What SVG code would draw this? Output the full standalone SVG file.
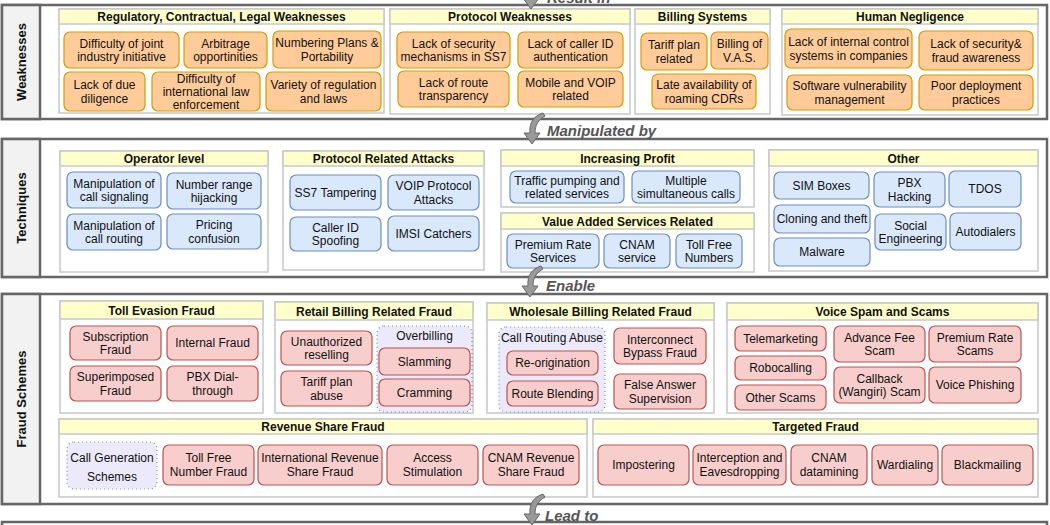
<svg xmlns="http://www.w3.org/2000/svg" width="1050" height="525" viewBox="0 0 1050 525">
<style>
text{font-family:"Liberation Sans",Arial,Helvetica,sans-serif;font-size:12px;fill:#111;text-anchor:middle}
.sec{fill:#fff;stroke:#666;stroke-width:2.5}
.lab{fill:#f2f2f2;stroke:#666;stroke-width:2.5}
.grp{fill:#fff;stroke:#c8c8c8;stroke-width:1.5}
.hdr{fill:#ffffcc;stroke:#c8c8c8;stroke-width:1.5}
.o{fill:#ffcc99;stroke:#d79b00;stroke-width:1.2}
.b{fill:#dae8fc;stroke:#6c8ebf;stroke-width:1.2}
.r{fill:#f8cecc;stroke:#b85450;stroke-width:1.2}
.dot{fill:#eceafa;stroke:#6c8ebf;stroke-width:1.2;stroke-dasharray:1 3}
.h{font-weight:bold}
.s{font-weight:bold;font-size:13px}
.c{font-weight:bold;font-style:italic;font-size:15px;fill:#555;text-anchor:start}
.arr{fill:#999;stroke:#666;stroke-width:1}
</style>
<defs>
<path id="curl" d="M19 0 C10 3 5 9 6 20 L0 20 L8 31 L16 20 L11 20 C11 12 14 7 21 3 Z"/>
</defs>

<!-- sections -->
<g id="sec-weak">
<rect class="sec" x="2" y="5" width="1045" height="114"/>
<rect class="lab" x="2" y="5" width="38" height="114"/>
<text class="s" transform="translate(26,62) rotate(-90)">Weaknesses</text>
</g>
<g id="sec-tech">
<rect class="sec" x="2" y="139" width="1045" height="138"/>
<rect class="lab" x="2" y="139" width="38" height="138"/>
<text class="s" transform="translate(26,208) rotate(-90)">Techniques</text>
</g>
<g id="sec-fraud">
<rect class="sec" x="2" y="294" width="1045" height="210"/>
<rect class="lab" x="2" y="294" width="38" height="210"/>
<text class="s" transform="translate(26,399) rotate(-90)">Fraud Schemes</text>
</g>
<g id="sec-next">
<rect class="sec" x="2" y="522" width="1045" height="20"/>
</g>

<!-- Weaknesses groups -->
<g id="g-reg">
<rect class="grp" x="59" y="9" width="325" height="104"/>
<rect class="hdr" x="59" y="9" width="325" height="15"/>
<text class="h" x="221.5" y="21">Regulatory, Contractual, Legal Weaknesses</text>
</g>
<g id="n-joint"><rect class="o" x="64" y="32" width="115" height="36" rx="6"/><text x="121.5" y="47.5">Difficulty of joint</text><text x="121.5" y="61">industry initiative</text></g>
<g id="n-arb"><rect class="o" x="184" y="32" width="83" height="36" rx="6"/><text x="225.5" y="47.5">Arbitrage</text><text x="225.5" y="61">opportinities</text></g>
<g id="n-num"><rect class="o" x="273" y="31" width="108" height="37" rx="6"/><text x="327" y="47">Numbering Plans &amp;</text><text x="327" y="60.5">Portability</text></g>
<g id="n-due"><rect class="o" x="64" y="72" width="81" height="39" rx="6"/><text x="104.5" y="89">Lack of due</text><text x="104.5" y="102.5">diligence</text></g>
<g id="n-intl"><rect class="o" x="152" y="72" width="108" height="39" rx="6"/><text x="206" y="83">Difficulty of</text><text x="206" y="96">international law</text><text x="206" y="109">enforcement</text></g>
<g id="n-var"><rect class="o" x="266" y="72" width="115" height="39" rx="6"/><text x="323.5" y="89">Variety of regulation</text><text x="323.5" y="102.5">and laws</text></g>

<g id="g-protw">
<rect class="grp" x="390" y="9" width="240" height="105"/>
<rect class="hdr" x="390" y="9" width="240" height="15"/>
<text class="h" x="510" y="21">Protocol Weaknesses</text>
</g>
<g id="n-ss7w"><rect class="o" x="397" y="32" width="113" height="36" rx="6"/><text x="453.5" y="47.5">Lack of security</text><text x="453.5" y="61">mechanisms in SS7</text></g>
<g id="n-cid"><rect class="o" x="518" y="32" width="105" height="36" rx="6"/><text x="570.5" y="47.5">Lack of caller ID</text><text x="570.5" y="61">authentication</text></g>
<g id="n-route"><rect class="o" x="398" y="71" width="111" height="36" rx="6"/><text x="453.5" y="86.5">Lack of route</text><text x="453.5" y="100">transparency</text></g>
<g id="n-mob"><rect class="o" x="518" y="71" width="105" height="36" rx="6"/><text x="570.5" y="86.5">Mobile and VOIP</text><text x="570.5" y="100">related</text></g>

<g id="g-bill">
<rect class="grp" x="635" y="9" width="135" height="105"/>
<rect class="hdr" x="635" y="9" width="135" height="15"/>
<text class="h" x="702.5" y="21">Billing Systems</text>
</g>
<g id="n-tariff"><rect class="o" x="641" y="33" width="66" height="37" rx="6"/><text x="674" y="49">Tariff plan</text><text x="674" y="62.5">related</text></g>
<g id="n-vas"><rect class="o" x="711" y="32" width="57" height="37" rx="6"/><text x="739.5" y="48">Billing of</text><text x="739.5" y="61.5">V.A.S.</text></g>
<g id="n-cdr"><rect class="o" x="652" y="74" width="104" height="35" rx="6"/><text x="704" y="89">Late availability of</text><text x="704" y="102.5">roaming CDRs</text></g>

<g id="g-human">
<rect class="grp" x="782" y="9" width="256" height="106"/>
<rect class="hdr" x="782" y="9" width="256" height="15"/>
<text class="h" x="910" y="21">Human Negligence</text>
</g>
<g id="n-ctrl"><rect class="o" x="785" y="29" width="127" height="39" rx="6"/><text x="848.5" y="46">Lack of internal control</text><text x="848.5" y="59.5">systems in companies</text></g>
<g id="n-aware"><rect class="o" x="919" y="31" width="114" height="39" rx="6"/><text x="976" y="48">Lack of security&amp;</text><text x="976" y="61.5">fraud awareness</text></g>
<g id="n-soft"><rect class="o" x="787" y="75" width="125" height="35" rx="6"/><text x="849.5" y="90">Software vulnerability</text><text x="849.5" y="103.5">management</text></g>
<g id="n-poor"><rect class="o" x="919" y="75" width="114" height="35" rx="6"/><text x="976" y="90">Poor deployment</text><text x="976" y="103.5">practices</text></g>

<!-- Techniques groups -->
<g id="g-op">
<rect class="grp" x="60" y="151" width="208" height="121"/>
<rect class="hdr" x="60" y="151" width="208" height="15"/>
<text class="h" x="164" y="163">Operator level</text>
</g>
<g id="n-sig"><rect class="b" x="67" y="172" width="94" height="36" rx="6"/><text x="114" y="187.5">Manipulation of</text><text x="114" y="201">call signaling</text></g>
<g id="n-hij"><rect class="b" x="167" y="173" width="94" height="36" rx="6"/><text x="214" y="188.5">Number range</text><text x="214" y="202">hijacking</text></g>
<g id="n-rout"><rect class="b" x="67" y="214" width="94" height="36" rx="6"/><text x="114" y="229.5">Manipulation of</text><text x="114" y="243">call routing</text></g>
<g id="n-price"><rect class="b" x="167" y="214" width="94" height="35" rx="6"/><text x="214" y="229">Pricing</text><text x="214" y="242.5">confusion</text></g>

<g id="g-pra">
<rect class="grp" x="283" y="151" width="201" height="119"/>
<rect class="hdr" x="283" y="151" width="201" height="15"/>
<text class="h" x="383.5" y="163">Protocol Related Attacks</text>
</g>
<g id="n-ss7t"><rect class="b" x="290" y="175" width="91" height="35" rx="6"/><text x="335.5" y="196.5">SS7 Tampering</text></g>
<g id="n-voip"><rect class="b" x="388" y="175" width="91" height="35" rx="6"/><text x="433.5" y="190">VOIP Protocol</text><text x="433.5" y="203.5">Attacks</text></g>
<g id="n-spoof"><rect class="b" x="290" y="217" width="91" height="34" rx="6"/><text x="335.5" y="231.5">Caller ID</text><text x="335.5" y="245">Spoofing</text></g>
<g id="n-imsi"><rect class="b" x="388" y="216" width="91" height="35" rx="6"/><text x="433.5" y="237.5">IMSI Catchers</text></g>

<g id="g-profit">
<rect class="grp" x="501" y="150" width="253" height="57"/>
<rect class="hdr" x="501" y="150" width="253" height="16"/>
<text class="h" x="627.5" y="162.5">Increasing Profit</text>
</g>
<g id="n-pump"><rect class="b" x="510" y="171" width="114" height="32" rx="6"/><text x="567" y="184.5">Traffic pumping and</text><text x="567" y="198">related services</text></g>
<g id="n-multi"><rect class="b" x="632" y="171" width="108" height="32" rx="6"/><text x="686" y="184.5">Multiple</text><text x="686" y="198">simultaneous calls</text></g>

<g id="g-vas">
<rect class="grp" x="501" y="213" width="253" height="59"/>
<rect class="hdr" x="501" y="213" width="253" height="16"/>
<text class="h" x="627.5" y="225.5">Value Added Services Related</text>
</g>
<g id="n-prs"><rect class="b" x="507" y="234" width="92" height="34" rx="6"/><text x="553" y="248.5">Premium Rate</text><text x="553" y="262">Services</text></g>
<g id="n-cnams"><rect class="b" x="604" y="234" width="66" height="34" rx="6"/><text x="637" y="248.5">CNAM</text><text x="637" y="262">service</text></g>
<g id="n-tfn"><rect class="b" x="676" y="234" width="66" height="34" rx="6"/><text x="709" y="248.5">Toll Free</text><text x="709" y="262">Numbers</text></g>

<g id="g-other">
<rect class="grp" x="769" y="150" width="269" height="121"/>
<rect class="hdr" x="769" y="150" width="269" height="16"/>
<text class="h" x="903.5" y="162.5">Other</text>
</g>
<g id="n-sim"><rect class="b" x="774" y="172" width="95" height="27" rx="6"/><text x="821.5" y="189.5">SIM Boxes</text></g>
<g id="n-pbx"><rect class="b" x="874" y="172" width="71" height="35" rx="6"/><text x="909.5" y="187">PBX</text><text x="909.5" y="200.5">Hacking</text></g>
<g id="n-tdos"><rect class="b" x="949" y="171" width="72" height="36" rx="6"/><text x="985" y="193">TDOS</text></g>
<g id="n-clone"><rect class="b" x="774" y="205" width="96" height="28" rx="6"/><text x="822" y="223">Cloning and theft</text></g>
<g id="n-social"><rect class="b" x="875" y="214" width="71" height="36" rx="6"/><text x="910.5" y="229.5">Social</text><text x="910.5" y="243">Engineering</text></g>
<g id="n-auto"><rect class="b" x="950" y="213" width="71" height="37" rx="6"/><text x="985.5" y="235.5">Autodialers</text></g>
<g id="n-mal"><rect class="b" x="774" y="238" width="96" height="28" rx="6"/><text x="822" y="256">Malware</text></g>

<!-- Fraud groups -->
<g id="g-toll">
<rect class="grp" x="60" y="301" width="203" height="112"/>
<rect class="hdr" x="60" y="301" width="203" height="18"/>
<text class="h" x="161.5" y="314.5">Toll Evasion Fraud</text>
</g>
<g id="n-subs"><rect class="r" x="70" y="326" width="91" height="34" rx="6"/><text x="115.5" y="340.5">Subscription</text><text x="115.5" y="354">Fraud</text></g>
<g id="n-internal"><rect class="r" x="167" y="326" width="91" height="34" rx="6"/><text x="212.5" y="347">Internal Fraud</text></g>
<g id="n-super"><rect class="r" x="70" y="366" width="91" height="35" rx="6"/><text x="115.5" y="381">Superimposed</text><text x="115.5" y="394.5">Fraud</text></g>
<g id="n-pbxd"><rect class="r" x="167" y="366" width="91" height="35" rx="6"/><text x="212.5" y="381">PBX Dial-</text><text x="212.5" y="394.5">through</text></g>

<g id="g-retail">
<rect class="grp" x="275" y="302" width="198" height="111"/>
<rect class="hdr" x="275" y="302" width="198" height="18"/>
<text class="h" x="374" y="315.5">Retail Billing Related Fraud</text>
</g>
<g id="n-resell"><rect class="r" x="281" y="331" width="91" height="34" rx="6"/><text x="326.5" y="345.5">Unauthorized</text><text x="326.5" y="359">reselling</text></g>
<g id="n-tabuse"><rect class="r" x="281" y="371" width="91" height="35" rx="6"/><text x="326.5" y="386">Tariff plan</text><text x="326.5" y="399.5">abuse</text></g>
<g id="n-overb"><rect class="dot" x="377" y="326" width="95" height="86" rx="7"/><text x="424.5" y="340">Overbilling</text></g>
<g id="n-slam"><rect class="r" x="379" y="348" width="91" height="27" rx="6"/><text x="424.5" y="365.5">Slamming</text></g>
<g id="n-cram"><rect class="r" x="379" y="379" width="91" height="27" rx="6"/><text x="424.5" y="396.5">Cramming</text></g>

<g id="g-whole">
<rect class="grp" x="487" y="303" width="227" height="110"/>
<rect class="hdr" x="487" y="303" width="227" height="17"/>
<text class="h" x="600.5" y="316">Wholesale Billing Related Fraud</text>
</g>
<g id="n-cra"><rect class="dot" x="499" y="327" width="106" height="85" rx="7"/><text x="552" y="342">Call Routing Abuse</text></g>
<g id="n-reorig"><rect class="r" x="507" y="351" width="91" height="24" rx="6"/><text x="552.5" y="367">Re-origination</text></g>
<g id="n-blend"><rect class="r" x="507" y="381" width="91" height="25" rx="6"/><text x="552.5" y="397.5">Route Blending</text></g>
<g id="n-bypass"><rect class="r" x="614" y="328" width="92" height="36" rx="6"/><text x="660" y="343.5">Interconnect</text><text x="660" y="357">Bypass Fraud</text></g>
<g id="n-fas"><rect class="r" x="614" y="374" width="92" height="35" rx="6"/><text x="660" y="389">False Answer</text><text x="660" y="402.5">Supervision</text></g>

<g id="g-spam">
<rect class="grp" x="727" y="303" width="311" height="110"/>
<rect class="hdr" x="727" y="303" width="311" height="17"/>
<text class="h" x="882.5" y="316">Voice Spam and Scams</text>
</g>
<g id="n-tele"><rect class="r" x="735" y="326" width="91" height="25" rx="6"/><text x="780.5" y="342.5">Telemarketing</text></g>
<g id="n-robo"><rect class="r" x="735" y="356" width="91" height="24" rx="6"/><text x="780.5" y="372">Robocalling</text></g>
<g id="n-oscam"><rect class="r" x="735" y="385" width="91" height="25" rx="6"/><text x="780.5" y="401.5">Other Scams</text></g>
<g id="n-adv"><rect class="r" x="834" y="326" width="91" height="36" rx="6"/><text x="879.5" y="341.5">Advance Fee</text><text x="879.5" y="355">Scam</text></g>
<g id="n-wang"><rect class="r" x="834" y="367" width="91" height="36" rx="6"/><text x="879.5" y="382.5">Callback</text><text x="879.5" y="396">(Wangiri) Scam</text></g>
<g id="n-prsc"><rect class="r" x="929" y="326" width="92" height="36" rx="6"/><text x="975" y="341.5">Premium Rate</text><text x="975" y="355">Scams</text></g>
<g id="n-phish"><rect class="r" x="929" y="367" width="92" height="36" rx="6"/><text x="975" y="389">Voice Phishing</text></g>

<g id="g-rev">
<rect class="grp" x="59" y="419" width="528" height="78"/>
<rect class="hdr" x="59" y="419" width="528" height="15"/>
<text class="h" x="323" y="431">Revenue Share Fraud</text>
</g>
<g id="n-cgs"><rect class="dot" x="67" y="442" width="90" height="47" rx="7"/><text x="112" y="462">Call Generation</text><text x="112" y="481">Schemes</text></g>
<g id="n-tfnf"><rect class="r" x="163" y="445" width="91" height="40" rx="6"/><text x="208.5" y="462">Toll Free</text><text x="208.5" y="475.5">Number Fraud</text></g>
<g id="n-irsf"><rect class="r" x="258" y="445" width="124" height="40" rx="6"/><text x="320" y="462">International Revenue</text><text x="320" y="475.5">Share Fraud</text></g>
<g id="n-access"><rect class="r" x="387" y="445" width="91" height="40" rx="6"/><text x="432.5" y="462">Access</text><text x="432.5" y="475.5">Stimulation</text></g>
<g id="n-cnamr"><rect class="r" x="483" y="445" width="96" height="40" rx="6"/><text x="531" y="462">CNAM Revenue</text><text x="531" y="475.5">Share Fraud</text></g>

<g id="g-target">
<rect class="grp" x="593" y="419" width="445" height="78"/>
<rect class="hdr" x="593" y="419" width="445" height="15"/>
<text class="h" x="815.5" y="431">Targeted Fraud</text>
</g>
<g id="n-impost"><rect class="r" x="598" y="445" width="91" height="40" rx="6"/><text x="643.5" y="469">Impostering</text></g>
<g id="n-eaves"><rect class="r" x="693" y="445" width="93" height="40" rx="6"/><text x="739.5" y="462">Interception and</text><text x="739.5" y="475.5">Eavesdropping</text></g>
<g id="n-cnamd"><rect class="r" x="791" y="445" width="76" height="40" rx="6"/><text x="829" y="462">CNAM</text><text x="829" y="475.5">datamining</text></g>
<g id="n-ward"><rect class="r" x="872" y="445" width="66" height="40" rx="6"/><text x="905" y="469">Wardialing</text></g>
<g id="n-black"><rect class="r" x="942" y="445" width="91" height="40" rx="6"/><text x="987.5" y="469">Blackmailing</text></g>

<!-- connectors -->
<g id="connectors">
<use href="#curl" class="arr" transform="translate(523,-22)"/>
<text class="c" x="547" y="3">Result in</text>
<use href="#curl" class="arr" transform="translate(524,113)"/>
<text class="c" x="547" y="136">Manipulated by</text>
<use href="#curl" class="arr" transform="translate(522,266)"/>
<text class="c" x="546" y="291">Enable</text>
<use href="#curl" class="arr" transform="translate(524,494)"/>
<text class="c" x="545" y="521">Lead to</text>
</g>
</svg>
